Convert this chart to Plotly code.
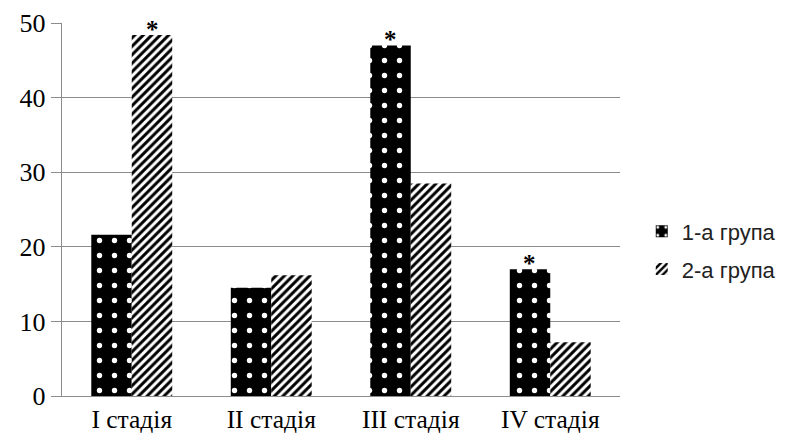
import plotly.graph_objects as go

categories = ["I стадія", "II стадія", "III стадія", "IV стадія"]
group1 = [21.6, 14.5, 47.0, 17.0]
group2 = [48.4, 16.2, 28.5, 7.2]
sig1 = ["", "", "*", "*"]
sig2 = ["*", "", "", ""]
series_names = ["1-а група", "2-а група"]
y_ticks = [0, 10, 20, 30, 40, 50]

BARGAP = 0.42
ML, MR, MT, MB = 54, 165, 15, 54
W, H = 785, 442
plot_w = W - ML - MR
bar_px = plot_w / len(categories) * (1 - BARGAP) / 2

fig = go.Figure()
fig.add_trace(go.Bar(
    x=categories, y=group1, name=series_names[0], legendgroup="g1",
    marker=dict(color="black", line=dict(width=0),
                pattern=dict(shape=".", fgcolor="white", bgcolor="black",
                             size=15, solidity=0.1, fillmode="replace")),
))
fig.add_trace(go.Bar(
    x=categories, y=group2, name=series_names[1], legendgroup="g2",
    marker=dict(color="white", line=dict(width=0),
                pattern=dict(shape="/", fgcolor="black", bgcolor="white",
                             size=6, solidity=0.5, fillmode="replace")),
))

annotations = []
for sig, vals, shift in ((sig1, group1, -bar_px / 2), (sig2, group2, bar_px / 2)):
    for cat, s, v in zip(categories, sig, vals):
        if s:
            annotations.append(dict(
                x=cat, y=v, xref="x", yref="y", text="<b>" + s + "</b>", showarrow=False,
                xshift=shift, yshift=-10, yanchor="bottom",
                font=dict(family="Liberation Serif", size=25, color="black"),
            ))

fig.update_layout(
    width=W, height=H,
    margin=dict(l=ML, r=MR, t=MT, b=MB),
    paper_bgcolor="white", plot_bgcolor="white",
    barmode="group", bargap=BARGAP, bargroupgap=0,
    showlegend=True,
    legend=dict(x=1.039, y=0.39, xanchor="left", yanchor="middle",
                font=dict(family="Liberation Sans", size=22, color="#222"),
                bgcolor="rgba(0,0,0,0)", tracegroupgap=6, itemwidth=30),
    annotations=annotations,
)
fig.update_xaxes(
    automargin=False,
    showline=True, linecolor="#8c8c8c", linewidth=1.4,
    ticks="", showgrid=False,
    tickfont=dict(family="Liberation Serif", size=25.5, color="black"),
)
fig.update_yaxes(
    automargin=False,
    range=[0, 50], tickvals=y_ticks,
    showgrid=True, gridcolor="#8c8c8c", gridwidth=1.4,
    showline=True, linecolor="#8c8c8c", linewidth=1.4,
    ticks="outside", ticklen=10, tickcolor="#8c8c8c", tickwidth=1.4,
    tickfont=dict(family="Liberation Serif", size=26, color="black"),
    zeroline=False,
)

fig.write_html("out.html")
